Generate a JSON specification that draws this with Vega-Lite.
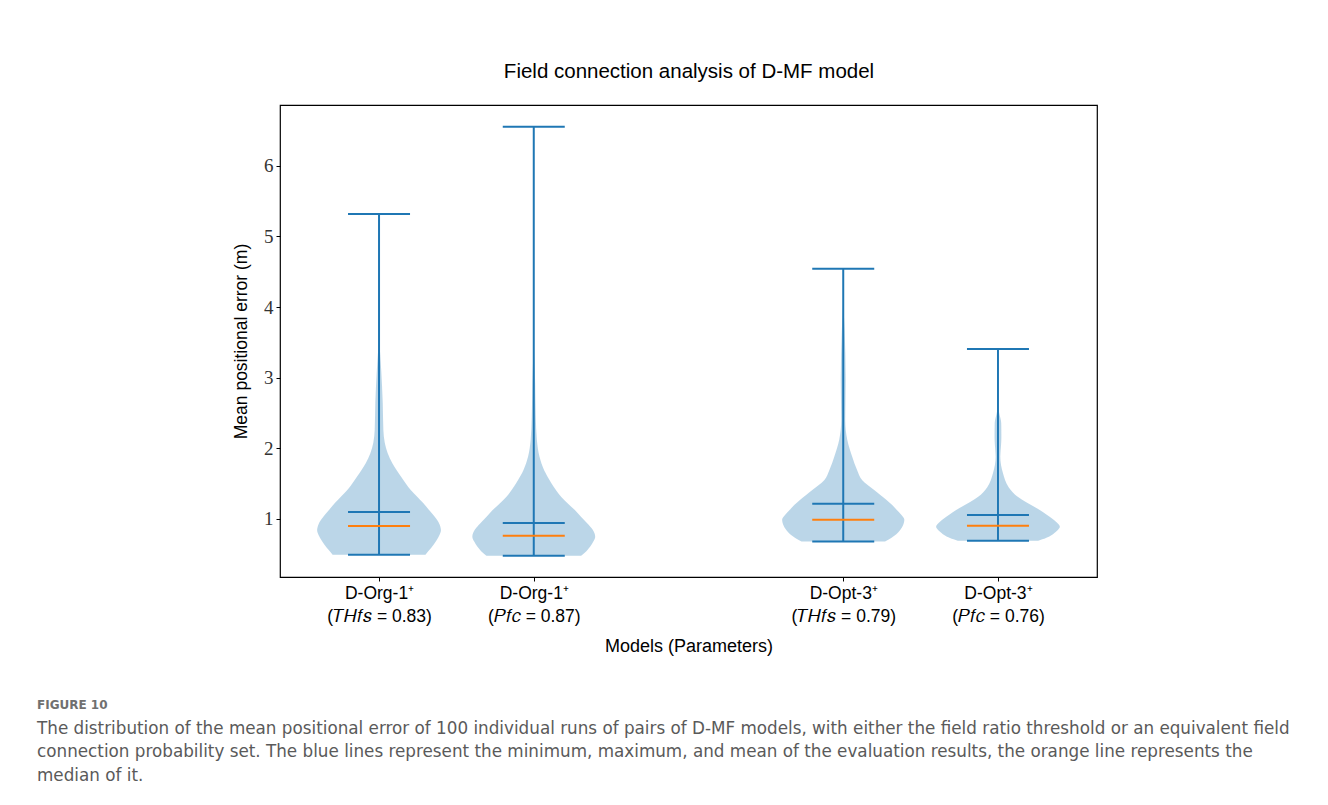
{
  "$schema": "https://vega.github.io/schema/vega-lite/v6.json",
  "width": 817,
  "height": 472,
  "autosize": {"type": "none"},
  "padding": {"left": 280, "top": 105, "right": 231, "bottom": 228},
  "background": "white",
  "title": {
    "text": "FIGURE 10",
    "subtitle": [
      "The distribution of the mean positional error of 100 individual runs of pairs of D-MF models, with either the field ratio threshold or an equivalent field",
      "connection probability set. The blue lines represent the minimum, maximum, and mean of the evaluation results, the orange line represents the",
      "median of it."
    ],
    "orient": "bottom",
    "anchor": "start",
    "frame": "group",
    "dx": -243,
    "offset": 44,
    "font": "DejaVu Sans",
    "fontSize": 12,
    "fontWeight": "bold",
    "color": "#707070",
    "subtitleFont": "DejaVu Sans",
    "subtitleFontSize": 16.8,
    "subtitleColor": "#5a5a5a",
    "subtitleLineHeight": 23.5,
    "subtitlePadding": 9
  },
  "datasets": {
    "violin": [
      {"model": "A", "pos": 1, "y": 0.495, "w": 0.30},
      {"model": "A", "pos": 1, "y": 0.56, "w": 0.325},
      {"model": "A", "pos": 1, "y": 0.63, "w": 0.35},
      {"model": "A", "pos": 1, "y": 0.70, "w": 0.372},
      {"model": "A", "pos": 1, "y": 0.77, "w": 0.39},
      {"model": "A", "pos": 1, "y": 0.84, "w": 0.40},
      {"model": "A", "pos": 1, "y": 0.93, "w": 0.39},
      {"model": "A", "pos": 1, "y": 1.03, "w": 0.36},
      {"model": "A", "pos": 1, "y": 1.13, "w": 0.322},
      {"model": "A", "pos": 1, "y": 1.23, "w": 0.284},
      {"model": "A", "pos": 1, "y": 1.32, "w": 0.245},
      {"model": "A", "pos": 1, "y": 1.41, "w": 0.205},
      {"model": "A", "pos": 1, "y": 1.50, "w": 0.174},
      {"model": "A", "pos": 1, "y": 1.59, "w": 0.145},
      {"model": "A", "pos": 1, "y": 1.69, "w": 0.114},
      {"model": "A", "pos": 1, "y": 1.79, "w": 0.086},
      {"model": "A", "pos": 1, "y": 1.93, "w": 0.056},
      {"model": "A", "pos": 1, "y": 2.08, "w": 0.037},
      {"model": "A", "pos": 1, "y": 2.26, "w": 0.028},
      {"model": "A", "pos": 1, "y": 2.64, "w": 0.024},
      {"model": "A", "pos": 1, "y": 3.11, "w": 0.014},
      {"model": "A", "pos": 1, "y": 3.35, "w": 0.007},
      {"model": "A", "pos": 1, "y": 3.55, "w": 0.001},
      {"model": "A", "pos": 1, "y": 5.316, "w": 0},
      {"model": "B", "pos": 2, "y": 0.48, "w": 0.306},
      {"model": "B", "pos": 2, "y": 0.545, "w": 0.34},
      {"model": "B", "pos": 2, "y": 0.61, "w": 0.365},
      {"model": "B", "pos": 2, "y": 0.68, "w": 0.385},
      {"model": "B", "pos": 2, "y": 0.75, "w": 0.397},
      {"model": "B", "pos": 2, "y": 0.85, "w": 0.38},
      {"model": "B", "pos": 2, "y": 0.94, "w": 0.345},
      {"model": "B", "pos": 2, "y": 1.03, "w": 0.305},
      {"model": "B", "pos": 2, "y": 1.13, "w": 0.264},
      {"model": "B", "pos": 2, "y": 1.22, "w": 0.22},
      {"model": "B", "pos": 2, "y": 1.31, "w": 0.178},
      {"model": "B", "pos": 2, "y": 1.41, "w": 0.143},
      {"model": "B", "pos": 2, "y": 1.51, "w": 0.113},
      {"model": "B", "pos": 2, "y": 1.69, "w": 0.067},
      {"model": "B", "pos": 2, "y": 1.88, "w": 0.037},
      {"model": "B", "pos": 2, "y": 2.12, "w": 0.02},
      {"model": "B", "pos": 2, "y": 2.45, "w": 0.013},
      {"model": "B", "pos": 2, "y": 2.92, "w": 0.009},
      {"model": "B", "pos": 2, "y": 3.2, "w": 0.005},
      {"model": "B", "pos": 2, "y": 3.45, "w": 0.001},
      {"model": "B", "pos": 2, "y": 6.55, "w": 0},
      {"model": "C", "pos": 4, "y": 0.68, "w": 0.27},
      {"model": "C", "pos": 4, "y": 0.73, "w": 0.31},
      {"model": "C", "pos": 4, "y": 0.84, "w": 0.367},
      {"model": "C", "pos": 4, "y": 0.92, "w": 0.388},
      {"model": "C", "pos": 4, "y": 0.99, "w": 0.395},
      {"model": "C", "pos": 4, "y": 1.06, "w": 0.375},
      {"model": "C", "pos": 4, "y": 1.13, "w": 0.345},
      {"model": "C", "pos": 4, "y": 1.20, "w": 0.315},
      {"model": "C", "pos": 4, "y": 1.27, "w": 0.28},
      {"model": "C", "pos": 4, "y": 1.34, "w": 0.24},
      {"model": "C", "pos": 4, "y": 1.41, "w": 0.2},
      {"model": "C", "pos": 4, "y": 1.48, "w": 0.158},
      {"model": "C", "pos": 4, "y": 1.55, "w": 0.123},
      {"model": "C", "pos": 4, "y": 1.69, "w": 0.09},
      {"model": "C", "pos": 4, "y": 1.88, "w": 0.058},
      {"model": "C", "pos": 4, "y": 2.12, "w": 0.026},
      {"model": "C", "pos": 4, "y": 2.40, "w": 0.013},
      {"model": "C", "pos": 4, "y": 2.97, "w": 0.016},
      {"model": "C", "pos": 4, "y": 3.67, "w": 0.009},
      {"model": "C", "pos": 4, "y": 4.10, "w": 0.001},
      {"model": "C", "pos": 4, "y": 4.542, "w": 0},
      {"model": "D", "pos": 5, "y": 0.693, "w": 0.26},
      {"model": "D", "pos": 5, "y": 0.73, "w": 0.31},
      {"model": "D", "pos": 5, "y": 0.77, "w": 0.345},
      {"model": "D", "pos": 5, "y": 0.83, "w": 0.38},
      {"model": "D", "pos": 5, "y": 0.89, "w": 0.40},
      {"model": "D", "pos": 5, "y": 0.96, "w": 0.375},
      {"model": "D", "pos": 5, "y": 1.03, "w": 0.334},
      {"model": "D", "pos": 5, "y": 1.10, "w": 0.29},
      {"model": "D", "pos": 5, "y": 1.17, "w": 0.237},
      {"model": "D", "pos": 5, "y": 1.24, "w": 0.18},
      {"model": "D", "pos": 5, "y": 1.31, "w": 0.13},
      {"model": "D", "pos": 5, "y": 1.38, "w": 0.095},
      {"model": "D", "pos": 5, "y": 1.45, "w": 0.069},
      {"model": "D", "pos": 5, "y": 1.65, "w": 0.032},
      {"model": "D", "pos": 5, "y": 1.88, "w": 0.015},
      {"model": "D", "pos": 5, "y": 2.05, "w": 0.02},
      {"model": "D", "pos": 5, "y": 2.16, "w": 0.022},
      {"model": "D", "pos": 5, "y": 2.36, "w": 0.021},
      {"model": "D", "pos": 5, "y": 2.50, "w": 0.008},
      {"model": "D", "pos": 5, "y": 2.60, "w": 0.001},
      {"model": "D", "pos": 5, "y": 3.406, "w": 0}
    ],
    "stats": [
      {"model": "A", "pos": 1, "min": 0.495, "max": 5.316, "mean": 1.099, "median": 0.90},
      {"model": "B", "pos": 2, "min": 0.48, "max": 6.55, "mean": 0.943, "median": 0.764},
      {"model": "C", "pos": 4, "min": 0.68, "max": 4.542, "mean": 1.217, "median": 0.99},
      {"model": "D", "pos": 5, "min": 0.693, "max": 3.406, "mean": 1.057, "median": 0.905}
    ]
  },
  "resolve": {"axis": {"x": "independent"}},
  "layer": [
    {
      "data": {"name": "violin"},
      "transform": [
        {"calculate": "datum.pos - datum.w", "as": "lo"},
        {"calculate": "datum.pos + datum.w", "as": "hi"}
      ],
      "mark": {"type": "area", "orient": "horizontal", "color": "#1f77b4", "opacity": 0.3, "interpolate": "monotone"},
      "encoding": {
        "y": {"field": "y", "type": "quantitative",
          "scale": {"domain": [0.179, 6.859], "nice": false, "zero": false},
          "axis": {"values": [1, 2, 3, 4, 5, 6], "title": "Mean positional error (m)", "format": "d",
            "labelFont": "Liberation Serif", "labelFontSize": 19, "labelColor": "#333", "labelPadding": 3,
            "titleFont": "Liberation Sans", "titleFontSize": 17.5, "titleFontWeight": "normal", "titleColor": "black", "titlePadding": 13,
            "tickColor": "black", "tickSize": 4, "domain": false, "grid": false}},
        "x": {"field": "lo", "type": "quantitative",
          "scale": {"domain": [0.36, 5.64], "nice": false, "zero": false},
          "axis": {"orient": "bottom", "values": [1, 2, 4, 5], "title": "Models (Parameters)",
            "labelExpr": "datum.value == 1 ? ['D-Org-1⁺', '(𝑇𝐻𝑓𝑠 = 0.83)'] : datum.value == 2 ? ['D-Org-1⁺', '(𝑃𝑓𝑐 = 0.87)'] : datum.value == 4 ? ['D-Opt-3⁺', '(𝑇𝐻𝑓𝑠 = 0.79)'] : ['D-Opt-3⁺', '(𝑃𝑓𝑐 = 0.76)']",
            "labelFont": "Liberation Sans", "labelFontSize": 17.5, "labelColor": "black", "labelLineHeight": 23, "labelPadding": 3,
            "titleFont": "Liberation Sans", "titleFontSize": 18, "titleFontWeight": "normal", "titleColor": "black", "titlePadding": 13,
            "tickColor": "black", "tickSize": 4, "domain": false, "grid": false}},
        "x2": {"field": "hi"},
        "detail": {"field": "model"}
      }
    },
    {
      "data": {"name": "stats"},
      "mark": {"type": "rule", "color": "#1f77b4", "strokeWidth": 2},
      "encoding": {
        "x": {"field": "pos", "type": "quantitative",
          "axis": {"orient": "top", "title": "Field connection analysis of D-MF model", "labels": false, "ticks": false, "domain": false, "grid": false,
            "titleFont": "Liberation Sans", "titleFontSize": 20.5, "titleFontWeight": "normal", "titleColor": "black", "titlePadding": 24}},
        "y": {"field": "min", "type": "quantitative"},
        "y2": {"field": "max"}
      }
    },
    {
      "data": {"name": "stats"},
      "mark": {"type": "tick", "orient": "horizontal", "color": "#1f77b4", "size": 62, "thickness": 2, "opacity": 1},
      "encoding": {
        "x": {"field": "pos", "type": "quantitative", "axis": null},
        "y": {"field": "min", "type": "quantitative"}
      }
    },
    {
      "data": {"name": "stats"},
      "mark": {"type": "tick", "orient": "horizontal", "color": "#1f77b4", "size": 62, "thickness": 2, "opacity": 1},
      "encoding": {
        "x": {"field": "pos", "type": "quantitative", "axis": null},
        "y": {"field": "max", "type": "quantitative"}
      }
    },
    {
      "data": {"name": "stats"},
      "mark": {"type": "tick", "orient": "horizontal", "color": "#1f77b4", "size": 62, "thickness": 2, "opacity": 1},
      "encoding": {
        "x": {"field": "pos", "type": "quantitative", "axis": null},
        "y": {"field": "mean", "type": "quantitative"}
      }
    },
    {
      "data": {"name": "stats"},
      "mark": {"type": "tick", "orient": "horizontal", "color": "#ff7f0e", "size": 62, "thickness": 2, "opacity": 1},
      "encoding": {
        "x": {"field": "pos", "type": "quantitative", "axis": null},
        "y": {"field": "median", "type": "quantitative"}
      }
    }
  ],
  "config": {
    "view": {"stroke": "black", "strokeWidth": 1.2}
  }
}
